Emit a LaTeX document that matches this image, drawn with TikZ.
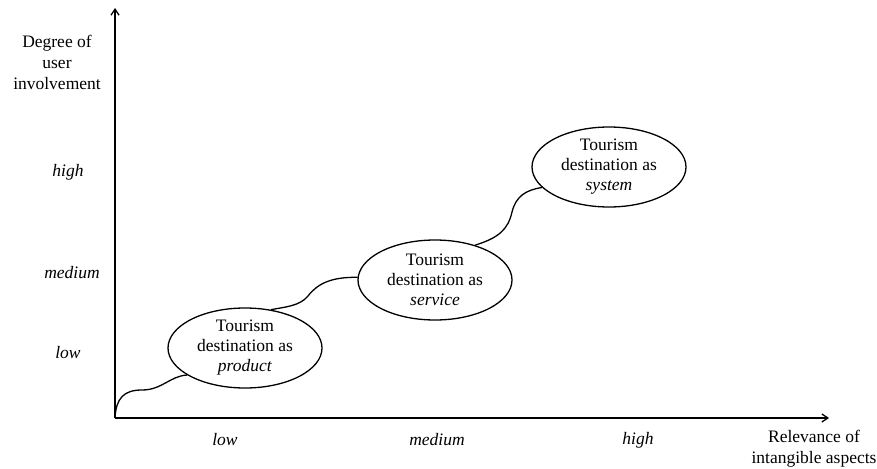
\documentclass[tikz,border=0pt]{standalone}
\usepackage{fontspec}
\setmainfont{Liberation Serif}
\usetikzlibrary{shapes.geometric,arrows.meta}
\begin{document}
\begin{tikzpicture}[x=1pt,y=-1pt,
  lab/.style={font=\fontsize{17.5}{21}\selectfont, align=center, inner sep=0pt},
  ital/.style={lab, font=\fontsize{17.5}{21}\selectfont\itshape},
  blob/.style={ellipse, draw, line width=1.3pt, minimum width=154pt, minimum height=80pt, inner sep=0pt, font=\fontsize{17.5}{20}\selectfont, align=center},
  axis/.style={line width=1.3pt, -{Straight Barb[length=6pt,width=8pt]}},
  wave/.style={line width=1.3pt}]
\useasboundingbox (0,0) rectangle (877,468);
\coordinate (O) at (115,418);
\coordinate (ytip) at (115,8);
\coordinate (xtip) at (829,418);
\draw[axis] (O) -- (ytip);
\draw[axis] (O) -- (xtip);
\node[lab] (ylab) at (57,62) {Degree of\\user\\involvement};
\node[lab] (xlab) at (814,449) {Relevance of\\intangible aspects};
\node[ital] (yh) at (68,172) {high};
\node[ital] (ym) at (72,273) {medium};
\node[ital] (yl) at (68,353) {low};
\node[ital] (xl) at (225,440) {low};
\node[ital] (xm) at (437,440) {medium};
\node[ital] (xh) at (638,440) {high};
\node[blob] (p) at (245,348) {Tourism\\destination as\\\textit{product}};
\node[blob] (s) at (435,280) {Tourism\\destination as\\\textit{service}};
\node[blob] (y) at (609,167) {Tourism\\destination as\\\textit{system}};
\draw[wave] (O) .. controls (116,398) and (124,390) .. (142,390) .. controls (162,390) and (170,376) .. (p.205);
\draw[wave] (p.56) .. controls (285,307) and (300,306) .. (308,296) .. controls (318,283) and (332,277) .. (s.178);
\draw[wave] (s.41) .. controls (498,238) and (508,230) .. (512,212) .. controls (516,196) and (526,190) .. (y.197);
\end{tikzpicture}
\end{document}
